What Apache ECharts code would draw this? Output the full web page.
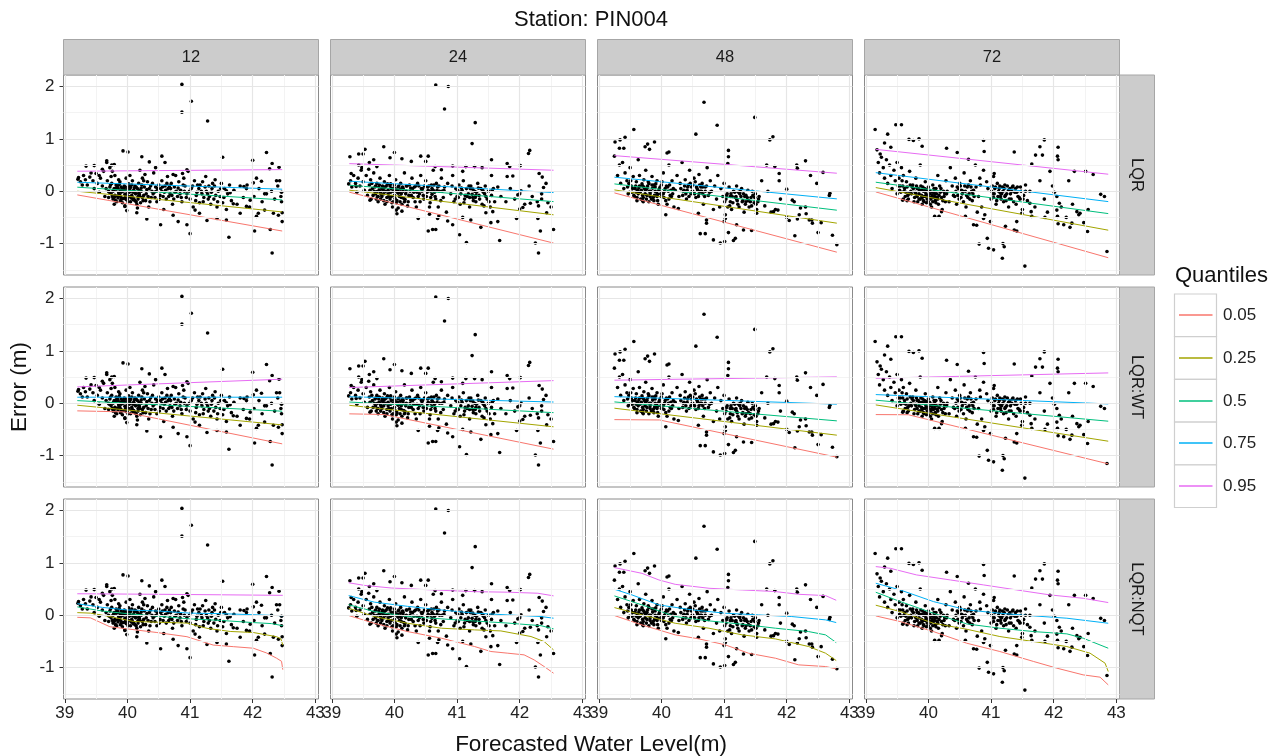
<!DOCTYPE html>
<html>
<head>
<meta charset="utf-8">
<script src="https://cdn.jsdelivr.net/npm/echarts@6/dist/echarts.min.js"></script>
<style>html,body{margin:0;padding:0;background:#fff}#c{width:1277px;height:756px}</style>
</head>
<body>
<div id="c"></div>
<script>
// ---------------- DATA ----------------
const leads = ['12', '24', '48', '72'];
const methods = ['LQR', 'LQR:WT', 'LQR:NQT'];
const quantiles = ['0.05', '0.25', '0.5', '0.75', '0.95'];
const xTicks = [39, 40, 41, 42, 43];
const xMinorTicks = [39.5, 40.5, 41.5, 42.5];
const yTicks = [-1, 0, 1, 2];
const yMinorTicks = [-1.5, -0.5, 0.5, 1.5];

// scatter points (forecasted water level, error) per lead time
const pts12 = [
[40.87,2.04],[40.87,1.51],[41.02,1.72],[41.28,1.34],[42.31,-1.18],[41.62,-0.88],[41.0,-0.81],[42.03,-0.76],[42.28,-0.73],[42.22,0.74],[42.0,0.59],[41.52,0.65],[40.55,0.67],[39.93,0.77],[40.01,0.75],[40.23,0.66],[40.35,0.56],[39.79,0.51],[39.67,0.58],[39.34,0.48],[39.47,0.49],[39.21,0.23],[39.28,0.12],[42.46,-0.02],[42.46,-0.2],[42.47,-0.41],[42.47,-0.58],[42.41,-0.46],[42.33,-0.42],[42.38,0.2],[42.43,0.2],[42.31,0.53],[42.27,0.43],[42.42,0.46],[42.14,0.19],[42.01,0.16],[42.06,0.25],[41.91,0.12],[41.96,-0.17],[41.86,0.09],[42.19,-0.05],[42.19,-0.36],[42.06,-0.48],[42.09,-0.42],[41.9,-0.29],[41.8,-0.42],[41.69,-0.24],[41.64,-0.03],[41.58,0.01],[41.43,-0.52],[41.58,-0.55],[41.27,-0.56],[41.15,-0.42],[41.08,-0.36],[40.95,-0.64],[40.81,-0.58],[40.73,-0.46],[40.53,-0.64],[40.31,-0.53],[40.15,-0.41],[39.99,-0.37],[39.96,-0.29],[40.73,0.32],[40.88,0.34],[40.95,0.41],
[39.22,0.26],[39.25,0.18],[39.3,0.3],[39.33,0.22],[39.36,0.12],[39.4,0.27],[39.42,0.35],[39.45,0.2],[39.47,0.05],[39.5,0.34],[39.52,0.15],[39.55,-0.02],[39.57,0.25],[39.6,0.1],[39.62,0.38],[39.64,-0.1],[39.66,0.05],[39.68,0.2],[39.7,-0.12],[39.7,0.0],[39.67,0.55],[39.72,0.45],[39.75,0.5],[39.76,0.38],
[39.72,0.08],[39.74,-0.05],[39.75,0.15],[39.77,-0.15],[39.78,0.02],[39.8,0.3],[39.8,-0.08],[39.82,0.12],[39.83,-0.2],[39.85,0.05],[39.86,-0.03],[39.88,0.18],[39.9,-0.12],[39.9,0.08],[39.92,-0.22],[39.93,0.0],[39.95,0.1],[39.96,-0.06],[39.98,0.25],[39.98,-0.16],[40.0,0.04],[40.0,-0.1],[40.02,0.14],[40.03,-0.02],[40.05,-0.2],[40.05,0.07],[40.07,-0.08],[40.08,0.2],[40.1,-0.14],[40.1,0.02],[40.12,0.1],[40.13,-0.05],[40.15,-0.25],[40.16,0.05],[40.18,0.15],[40.2,-0.1],[40.22,0.0],[40.24,0.25],[40.25,-0.18],[40.27,0.08],[40.3,-0.05],[40.32,0.18],[40.34,-0.3],[40.35,0.05],[40.38,-0.12],[40.4,0.15],[40.42,0.35],[40.43,-0.02],[40.45,0.08],[40.47,-0.2],[40.5,0.12],[40.52,-0.08],[40.55,0.2],[40.55,0.0],[40.58,-0.35],[40.6,0.1],[40.62,-0.15],[40.64,0.28],[40.65,0.05],[40.68,-0.05],[40.7,0.15],[40.72,-0.25],[40.75,0.08],[40.77,0.3],[40.8,-0.1],[40.82,0.18],[40.85,0.02],[40.87,-0.2],[40.9,0.25],[40.92,0.1],[40.95,-0.05],[40.97,0.38],[41.0,-0.15],[41.02,0.05],[41.05,-0.3],[41.07,0.2],[41.1,-0.08],[41.12,0.12],[41.15,-0.22],[41.18,0.0],[41.2,0.18],[41.22,-0.12],[41.25,0.28],[41.28,-0.05],[41.3,0.1],[41.33,-0.25],[41.35,0.05],[41.38,-0.15],[41.4,0.22],[41.43,-0.3],[41.45,0.0],[41.48,-0.1],[41.5,0.15],[41.52,-0.22],[41.55,0.05],[41.58,-0.35],[41.6,-0.05],[41.63,0.12],[41.66,-0.18],[41.7,0.02],[41.75,-0.25],[41.8,0.1],[41.85,-0.12],[41.9,0.05],[41.95,-0.3],[42.02,-0.1],[42.1,0.05],[42.15,-0.2],[42.22,-0.05],[42.3,0.0],[42.35,-0.15],[42.4,0.1],[42.45,-0.1],
[39.85,-0.13],[39.9,-0.02],[39.95,0.03],[40.0,-0.15],[40.04,0.09],[40.08,-0.12],[40.12,-0.18],[40.18,-0.04],[39.83,0.07],[39.88,-0.08],[40.2,0.4],[40.28,0.32],[40.45,0.45],[40.6,0.55],[39.6,0.42],[39.55,0.3],
[39.71,-0.02],[39.73,0.12],[39.76,-0.1],[39.79,0.05],[39.81,-0.18],[39.84,0.1],[39.87,-0.07],[39.89,0.02],[39.91,-0.15],[39.94,0.06],[39.97,-0.11],[39.99,0.0],[40.01,-0.2],[40.03,0.08],[40.06,-0.13],[40.09,-0.02],[40.11,0.06],[40.14,-0.2],[40.17,-0.1],[40.19,0.02],[40.21,-0.22],[40.23,0.12],[40.26,-0.08],[40.29,-0.18],[40.31,0.03],[40.36,-0.2],[40.39,0.0],[40.44,-0.12],[40.48,0.05],[40.51,-0.15],[40.56,0.08],[40.59,-0.02],[40.63,0.15],[40.66,-0.1],[40.69,0.05],[40.74,-0.15],[40.78,0.0],[40.84,-0.05],[40.89,0.12],[40.94,-0.12],[40.99,0.0],[41.04,0.1],[41.09,-0.18],[41.14,0.05],[41.19,-0.05],[41.24,0.08],[41.29,-0.15],[41.34,-0.02],[41.39,0.1],[41.44,-0.2],[41.49,0.05],[41.54,-0.12],[39.74,0.28],[39.79,-0.25],[39.86,0.22],[39.96,-0.28],[40.04,0.3],[40.16,-0.32],[40.26,0.2],
[39.77,0.0],[39.79,-0.12],[39.82,0.04],[39.84,-0.09],[39.87,0.13],[39.89,-0.18],[39.92,0.05],[39.94,-0.14],[39.97,0.08],[39.99,-0.06],[40.02,-0.1],[40.04,0.02],[40.07,0.12],[40.09,-0.16],[40.12,-0.02],[40.14,0.08],[40.17,-0.15],[40.19,-0.06],[40.22,0.06],[40.24,-0.12],[40.33,-0.1],[40.37,0.1],[40.41,-0.05],[40.46,0.0],[40.53,0.05],[40.57,-0.1],[40.61,0.02],[40.67,0.1],[40.71,-0.08],[40.76,-0.02],[40.81,0.06],[40.86,-0.12],[40.91,0.0],[41.11,-0.02],[41.16,0.12],[41.21,-0.2],[41.26,0.0],[41.31,-0.1],[41.36,0.15],[41.41,-0.08]
];
const pts24 = [
[40.66,2.03],[40.86,2.0],[40.8,1.57],[41.29,1.31],[41.24,0.91],[42.16,0.78],[42.14,0.72],[42.3,-1.18],[42.25,-0.99],[42.33,-0.76],[42.54,-0.73],[41.68,-0.94],[41.15,-0.98],[41.04,-0.83],[40.54,-0.76],[40.61,-0.73],[40.66,-0.73],[40.38,-0.52],[41.38,-0.69],[41.54,-0.6],[41.65,-0.58],[39.29,0.66],[39.31,0.34],[39.43,0.71],[39.5,0.71],[39.53,0.8],[39.83,0.85],[40.0,0.74],[40.12,0.62],[39.93,0.64],[40.42,0.67],[40.54,0.67],[40.27,0.57],[41.55,0.6],[41.8,0.53],[42.01,0.49],[42.31,0.34],[42.36,0.27],[42.38,0.07],[42.35,-0.15],[42.45,-0.22],[42.43,-0.41],[42.3,-0.28],[42.29,-0.52],[42.17,-0.23],[42.05,-0.31],[42.0,-0.34],[41.95,-0.52],[41.97,-0.07],[42.02,0.01],[41.8,0.28],[41.84,0.47],[41.89,0.29],[41.55,0.3],[41.4,0.45],[41.28,0.47],[41.09,0.38],[41.14,0.47],[40.93,0.48],[40.75,0.41],[40.65,0.47],[40.5,0.57],[39.6,0.55],[39.67,0.6],[39.72,0.47],[39.43,0.5],[39.48,0.45],[39.59,0.42],[39.27,0.14],[39.39,0.09],[39.61,-0.17],[39.74,-0.1],[40.03,-0.36],[40.04,-0.43],[40.06,-0.32],[40.12,-0.38],[40.56,-0.44],[40.69,-0.52],[40.71,-0.47],[40.85,-0.57],[40.93,-0.64],[41.09,-0.5],[41.22,-0.55],[41.57,-0.39],[41.46,-0.41],[41.43,-0.28],
[39.3,0.2],[39.32,0.08],[39.35,0.3],[39.38,0.15],[39.4,-0.02],[39.42,0.25],[39.45,0.1],[39.47,0.4],[39.5,0.18],[39.52,0.02],[39.55,0.3],[39.57,-0.08],[39.6,0.12],[39.62,0.22],[39.63,-0.15],[39.65,0.05],[39.67,0.35],[39.7,-0.05],[39.72,0.15],[39.74,-0.2],[39.75,0.08],[39.77,0.25],[39.8,-0.1],[39.82,0.02],[39.84,0.18],[39.85,-0.25],[39.87,0.1],[39.9,-0.05],[39.92,0.3],[39.93,-0.15],[39.95,0.05],[39.97,-0.3],[40.0,0.12],[40.0,-0.08],[40.02,0.22],[40.04,-0.18],[40.05,0.02],[40.08,-0.1],[40.1,0.15],[40.12,-0.25],[40.14,0.05],[40.16,0.35],[40.18,-0.05],[40.2,0.1],[40.22,-0.2],[40.25,0.0],[40.28,0.25],[40.3,-0.12],[40.32,0.08],[40.35,-0.3],[40.37,0.15],[40.4,-0.05],[40.42,0.3],[40.45,0.05],[40.47,-0.15],[40.5,0.2],[40.52,-0.02],[40.55,0.1],[40.57,-0.22],[40.6,0.05],[40.62,0.4],[40.65,-0.1],[40.67,0.15],[40.7,-0.3],[40.72,0.0],[40.75,0.25],[40.78,-0.12],[40.8,0.08],[40.83,-0.4],[40.85,0.15],[40.9,-0.05],[40.93,0.3],[40.95,-0.2],[40.98,0.05],[41.0,-0.1],[41.03,0.12],[41.05,-0.25],[41.08,0.02],[41.1,0.2],[41.12,-0.15],[41.15,0.05],[41.18,-0.05],[41.2,-0.3],[41.22,0.1],[41.25,-0.12],[41.28,0.0],[41.3,-0.2],[41.33,0.15],[41.35,-0.08],[41.38,0.05],[41.4,-0.25],[41.42,-0.02],[41.45,0.1],[41.48,-0.15],[41.5,0.0],[41.53,-0.3],[41.55,-0.08],[41.58,0.05],[41.6,-0.2],[41.65,0.08],[41.7,-0.1],[41.78,-0.2],[41.85,0.05],[41.92,-0.15],[42.0,-0.05],[42.08,-0.25],[42.15,0.1],[42.2,-0.1],[42.28,-0.2],[42.35,-0.05],[42.42,0.15],[42.5,-0.3],
[39.78,-0.03],[39.83,0.06],[39.88,-0.12],[39.94,0.14],[39.98,-0.2],[40.06,-0.04],[40.1,0.04],[40.15,-0.14],[40.6,-0.06],[40.63,0.12],[40.68,0.02],[40.58,0.0],[41.2,-0.12],[41.25,0.04],[41.3,-0.08],
[39.61,0.02],[39.64,0.15],[39.66,-0.08],[39.69,0.08],[39.71,-0.15],[39.73,0.0],[39.76,0.12],[39.79,-0.06],[39.81,0.1],[39.83,-0.18],[39.86,0.0],[39.89,0.14],[39.91,-0.1],[39.94,-0.02],[39.96,-0.22],[39.99,0.06],[40.01,-0.14],[40.03,0.0],[40.07,0.1],[40.09,-0.2],[40.11,-0.05],[40.13,0.08],[40.17,-0.16],[40.19,0.0],[40.21,-0.28],[40.24,0.12],[40.27,-0.08],[40.29,0.05],[40.33,-0.2],[40.36,-0.02],[40.39,0.1],[40.41,-0.2],[40.44,0.0],[40.48,0.1],[40.51,-0.1],[40.54,0.02],[40.56,-0.3],[40.59,0.12],[40.64,-0.02],[40.69,0.08],[40.74,-0.18],[40.79,0.02],[40.92,0.1],[40.97,-0.15],[41.01,0.02],[41.06,-0.05],[41.11,-0.22],[41.16,-0.1],[41.21,0.05],[41.26,-0.18],[41.31,-0.02],[41.36,-0.15],[41.41,0.02],[41.46,-0.1],[41.51,-0.2],[41.56,0.02],
[39.68,0.0],[39.7,0.1],[39.73,-0.1],[39.76,0.02],[39.78,-0.15],[39.8,0.05],[39.83,-0.05],[39.85,0.08],[39.88,-0.2],[39.9,0.02],[39.93,0.1],[39.95,-0.1],[39.98,0.0],[40.01,0.05],[40.03,-0.22],[40.06,0.08],[40.08,-0.02],[40.11,-0.12],[40.14,0.0],[40.16,-0.2],[40.19,0.1],[40.23,-0.08],[40.26,0.06],[40.31,-0.02],[40.34,0.1],[40.38,-0.1],[40.43,0.05],[40.46,-0.08],[40.53,0.08],[40.58,-0.12],[40.62,0.02],[40.66,-0.15],[40.71,0.1],[40.76,0.0],[41.02,-0.12],[41.07,0.06],[41.13,-0.08],[41.19,0.1],[41.24,-0.06],[41.29,-0.12],[41.34,0.06],[41.44,-0.05]
];
const pts48 = [
[40.68,1.70],[41.49,1.41],[40.89,1.26],[40.55,1.09],[39.56,1.18],[41.73,0.98],[41.78,1.04],[39.26,0.94],[39.34,0.98],[39.42,1.03],[39.33,0.82],[39.4,0.82],[39.25,0.67],[39.74,0.85],[39.78,0.9],[39.89,0.94],[39.81,0.8],[40.09,0.73],[40.12,0.75],[41.07,0.78],[41.07,0.66],[41.06,0.53],[41.68,0.5],[41.81,0.47],[41.88,0.34],[42.16,0.5],[42.17,0.44],[42.3,0.58],[42.38,0.3],[42.58,0.36],[42.69,-0.04],[42.68,-0.08],[42.5,-0.79],[42.73,-0.84],[42.8,-1.02],[42.13,-0.85],[42.04,-0.56],[42.17,-0.53],[42.36,-0.55],[42.41,-0.61],[42.22,-0.32],[42.31,-0.43],[42.09,-0.17],[41.86,-0.36],[41.79,-0.39],[42.0,0.04],[41.88,0.2],[40.62,-0.81],[40.7,-0.81],[40.83,-0.93],[40.94,-0.99],[41.01,-0.96],[41.15,-0.94],[41.18,-0.9],[41.07,-0.79],[41.31,-0.74],[41.44,-0.75],[41.2,-0.64],[41.0,-0.58],[40.72,-0.55],[40.72,-0.61],[40.59,-0.42],[40.07,-0.45],[39.61,-0.18],[39.71,-0.2],[40.27,-0.33],[41.02,-0.52],[41.52,-0.42],
[39.3,0.3],[39.33,0.5],[39.35,0.15],[39.38,0.55],[39.4,0.05],[39.42,0.35],[39.45,0.2],[39.47,-0.05],[39.5,0.45],[39.52,0.1],[39.55,0.28],[39.57,-0.1],[39.6,0.18],[39.62,0.02],[39.63,0.6],[39.65,0.3],[39.67,-0.15],[39.7,0.1],[39.72,0.22],[39.74,-0.05],[39.75,0.4],[39.77,0.05],[39.8,-0.2],[39.8,0.15],[39.83,0.0],[39.85,0.28],[39.87,-0.12],[39.9,0.08],[39.92,-0.02],[39.93,0.2],[39.95,-0.25],[39.97,0.05],[40.0,0.12],[40.0,-0.1],[40.03,0.35],[40.05,0.0],[40.07,-0.18],[40.1,0.08],[40.12,0.5],[40.14,-0.08],[40.17,0.2],[40.2,-0.3],[40.22,0.02],[40.25,0.3],[40.28,-0.1],[40.3,0.15],[40.33,0.55],[40.35,0.0],[40.38,0.22],[40.4,-0.15],[40.42,0.08],[40.45,0.4],[40.47,-0.05],[40.5,0.12],[40.52,0.25],[40.55,-0.12],[40.57,0.05],[40.6,0.32],[40.62,0.0],[40.65,0.15],[40.67,-0.25],[40.7,0.08],[40.73,0.45],[40.75,-0.08],[40.78,0.2],[40.8,0.0],[40.83,-0.35],[40.85,0.1],[40.88,-0.15],[40.9,0.3],[40.93,-0.3],[40.95,0.05],[40.98,-0.1],[41.0,0.15],[41.02,-0.45],[41.05,-0.05],[41.08,0.08],[41.1,-0.2],[41.12,-0.35],[41.15,0.0],[41.18,-0.12],[41.2,0.1],[41.22,-0.25],[41.25,-0.05],[41.28,0.05],[41.3,-0.18],[41.32,-0.4],[41.35,-0.08],[41.38,0.02],[41.4,-0.3],[41.43,-0.12],[41.45,0.0],[41.48,-0.22],[41.5,-0.05],[41.52,-0.35],[41.55,-0.15],[41.6,0.2],[41.65,-0.28],[41.7,0.0],[41.75,-0.4],[41.82,-0.35],[41.9,-0.15],[42.0,-0.5],[42.12,-0.2],[42.2,-0.45],[42.3,-0.3],[42.4,-0.55],[42.48,0.15],[42.55,-0.6],
[39.6,-0.02],[39.65,0.1],[39.7,-0.08],[39.75,0.02],[39.82,-0.1],[39.88,0.12],[39.94,-0.06],[40.02,-0.03],[40.5,0.0],[40.6,-0.05],[40.66,0.08],[41.1,-0.1],[41.2,-0.15],[41.26,0.0],[41.35,-0.2],
[39.46,0.08],[39.49,-0.02],[39.51,0.2],[39.54,0.05],[39.56,-0.08],[39.59,0.1],[39.61,-0.12],[39.64,0.06],[39.66,-0.02],[39.69,0.14],[39.71,-0.12],[39.73,0.05],[39.76,-0.15],[39.78,0.1],[39.81,0.0],[39.84,-0.15],[39.86,0.06],[39.89,-0.08],[39.91,0.14],[39.94,-0.18],[39.96,0.02],[39.99,-0.05],[40.01,0.18],[40.04,-0.12],[40.06,0.05],[40.09,-0.25],[40.11,0.0],[40.13,0.12],[40.16,-0.1],[40.19,0.05],[40.31,0.05],[40.34,-0.08],[40.37,0.1],[40.41,0.02],[40.44,-0.1],[40.46,0.15],[40.49,0.0],[40.53,-0.05],[40.56,0.08],[40.59,-0.1],[40.61,0.12],[40.64,0.0],[40.69,-0.1],[40.72,0.1],[40.77,-0.02],[41.01,-0.2],[41.04,-0.08],[41.09,-0.28],[41.13,-0.1],[41.17,-0.02],[41.21,-0.18],[41.24,-0.3],[41.27,-0.1],[41.31,-0.05],[41.34,-0.25],[41.37,-0.12],[41.42,-0.2],[41.46,-0.08],[41.51,-0.25],[41.56,-0.1],
[39.48,0.15],[39.53,-0.02],[39.58,0.05],[39.63,-0.05],[39.68,0.02],[39.7,-0.18],[39.72,0.08],[39.77,-0.08],[39.79,0.18],[39.82,-0.05],[39.85,0.12],[39.88,-0.18],[39.9,0.0],[39.93,-0.1],[39.98,0.08],[40.03,-0.05],[40.08,0.1],[40.12,-0.15],[40.15,0.02],[40.18,-0.05],[40.36,0.02],[40.39,-0.05],[40.43,0.12],[40.48,0.08],[40.51,-0.02],[40.54,0.18],[40.58,0.02],[40.63,0.08],[40.66,-0.05],[40.7,0.0],[41.03,-0.15],[41.06,-0.3],[41.11,-0.05],[41.14,-0.22],[41.19,-0.1],[41.23,-0.02],[41.29,-0.2],[41.33,-0.1],[41.39,-0.18],[41.44,-0.28],[41.49,-0.12],[41.54,-0.2]
];
const pts72 = [
[39.15,1.18],[39.48,1.27],[39.57,1.27],[39.35,1.09],[39.69,0.99],[39.76,0.97],[39.85,1.0],[39.4,0.84],[39.9,0.86],[39.3,0.92],[39.18,0.79],[39.23,0.71],[40.88,0.97],[40.89,0.76],[40.29,0.82],[40.46,0.74],[40.64,0.61],[41.37,0.75],[41.85,0.98],[41.78,0.85],[41.71,0.69],[41.82,0.69],[42.07,0.84],[42.06,0.67],[42.07,0.6],[41.65,0.52],[41.94,0.38],[42.24,0.2],[42.33,0.38],[42.51,0.38],[42.63,0.32],[42.75,-0.06],[42.81,-0.1],[42.85,-1.15],[42.54,-0.77],[42.42,-0.42],[42.37,-0.39],[42.29,-0.61],[42.26,-0.69],[42.16,-0.64],[42.07,-0.62],[42.06,-0.48],[42.05,-0.36],[42.09,-0.23],[42.01,-0.02],[41.86,-0.5],[41.65,-0.48],[41.54,-1.43],[41.18,-1.28],[41.21,-1.06],[41.19,-1.0],[41.04,-1.12],[40.96,-1.09],[40.81,-1.01],[40.94,-0.9],[41.41,-0.76],[41.37,-0.74],[41.23,-0.67],[40.99,-0.58],[40.88,-0.52],[40.72,-0.64],[40.77,-0.65],[40.59,-0.48],[40.1,-0.48],[40.17,-0.48],[40.21,-0.39],[39.59,-0.17],[39.66,-0.18],[41.04,0.28],[41.05,0.34],[40.93,0.18],[40.82,0.25],[41.62,-0.23],[41.49,-0.42],[41.64,-0.39],[41.41,-0.58],
[39.2,0.55],[39.22,0.35],[39.25,0.65],[39.28,0.45],[39.3,0.25],[39.33,0.6],[39.35,0.15],[39.38,0.5],[39.4,0.3],[39.42,0.05],[39.45,0.4],[39.47,0.2],[39.5,0.55],[39.5,-0.05],[39.53,0.25],[39.55,0.1],[39.57,0.45],[39.6,-0.15],[39.6,0.3],[39.62,0.05],[39.65,0.18],[39.67,-0.08],[39.7,0.38],[39.72,0.0],[39.75,0.12],[39.77,-0.2],[39.8,0.25],[39.8,-0.05],[39.82,0.05],[39.85,-0.15],[39.87,0.5],[39.88,0.1],[39.9,-0.25],[39.92,0.0],[39.95,0.18],[39.95,-0.1],[39.97,0.03],[40.0,-0.2],[40.0,0.08],[40.02,-0.05],[40.05,-0.3],[40.07,0.12],[40.08,-0.12],[40.1,0.0],[40.12,-0.22],[40.15,0.3],[40.17,-0.08],[40.2,0.05],[40.22,-0.35],[40.25,-0.1],[40.28,0.2],[40.3,0.0],[40.33,-0.2],[40.35,0.45],[40.38,0.1],[40.4,-0.08],[40.43,0.25],[40.45,-0.25],[40.48,0.05],[40.5,0.15],[40.52,-0.12],[40.55,0.0],[40.57,0.35],[40.6,-0.3],[40.62,0.08],[40.65,-0.05],[40.67,0.2],[40.7,-0.18],[40.72,0.02],[40.75,0.5],[40.78,-0.4],[40.8,-0.1],[40.83,0.12],[40.85,-0.3],[40.88,0.4],[40.9,-0.45],[40.95,0.05],[41.0,-0.15],[41.02,0.1],[41.05,-0.05],[41.08,-0.25],[41.1,0.15],[41.12,0.0],[41.15,-0.1],[41.18,0.08],[41.2,-0.2],[41.22,0.12],[41.25,-0.05],[41.28,-0.3],[41.3,0.05],[41.32,-0.15],[41.35,0.1],[41.38,-0.02],[41.4,-0.25],[41.42,0.08],[41.45,-0.12],[41.48,0.0],[41.5,-0.35],[41.52,-0.08],[41.55,0.12],[41.58,-0.18],[41.62,0.0],[41.7,-0.3],[41.78,0.2],[41.85,-0.15],[41.9,-0.4],[41.98,0.1],[42.05,-0.1],[42.12,-0.3],[42.2,-0.5],[42.3,-0.25],[42.4,-0.45],[42.48,-0.6],[42.55,-0.35],
[39.85,-0.05],[39.9,-0.12],[39.95,0.0],[40.0,-0.1],[40.04,-0.15],[40.1,-0.05],[40.14,-0.12],[39.92,-0.18],[40.06,-0.02],[41.15,-0.04],[41.22,-0.1],[41.28,0.02],
[39.52,0.1],[39.56,-0.02],[39.58,0.2],[39.61,0.0],[39.63,-0.1],[39.66,0.08],[39.68,-0.15],[39.71,0.12],[39.73,-0.05],[39.76,0.05],[39.78,-0.12],[39.81,0.1],[39.83,-0.2],[39.86,0.02],[39.89,-0.08],[39.91,0.08],[39.93,-0.2],[39.96,-0.05],[39.98,-0.15],[40.01,0.0],[40.03,-0.25],[40.06,-0.08],[40.09,0.05],[40.11,-0.18],[40.13,-0.05],[40.16,-0.25],[40.18,0.1],[40.21,-0.12],[40.24,0.0],[40.27,-0.2],[40.29,-0.05],[40.42,-0.1],[40.46,0.08],[40.49,-0.15],[40.53,0.02],[40.56,-0.2],[40.58,0.1],[40.61,-0.08],[40.64,0.12],[40.66,-0.15],[40.69,0.0],[40.73,-0.1],[40.76,0.08],[41.01,0.0],[41.04,-0.12],[41.07,0.08],[41.09,-0.18],[41.13,0.05],[41.16,-0.15],[41.19,0.0],[41.23,-0.08],[41.26,0.1],[41.29,-0.15],[41.33,0.0],[41.36,-0.2],[41.39,0.05],[41.43,-0.1],[41.47,0.08],[41.51,-0.15],[41.55,0.0],
[39.54,0.02],[39.59,0.1],[39.64,-0.02],[39.69,-0.05],[39.74,0.08],[39.79,-0.02],[39.82,-0.1],[39.84,0.05],[39.87,-0.15],[39.9,0.02],[39.92,-0.1],[39.94,0.05],[39.97,-0.22],[39.99,-0.08],[40.02,0.02],[40.04,-0.12],[40.07,-0.2],[40.1,-0.1],[40.12,0.05],[40.15,-0.15],[40.19,-0.02],[40.23,-0.18],[40.26,-0.05],[40.44,0.0],[40.47,-0.08],[40.51,0.1],[40.54,-0.05],[40.59,0.0],[40.63,-0.12],[40.68,0.08],[40.71,-0.05],[41.03,-0.05],[41.06,0.05],[41.11,-0.1],[41.14,0.1],[41.17,-0.05],[41.21,0.05],[41.24,-0.18],[41.31,-0.05],[41.34,0.08],[41.41,-0.02],[41.46,-0.15]
];

// quantile fits: [q0.05, q0.25, q0.5, q0.75, q0.95], each a list of [x, y]
const LQR_12 = [[[39.2,-0.07],[42.47,-0.76]],[[39.2,0.0],[42.47,-0.395]],[[39.2,0.077],[42.47,-0.165]],[[39.2,0.172],[42.47,0.039]],[[39.2,0.382],[42.47,0.413]]];
const LQR_24 = [[[39.28,-0.018],[42.54,-0.99]],[[39.28,0.02],[42.54,-0.45]],[[39.28,0.115],[42.54,-0.198]],[[39.28,0.191],[42.54,-0.026]],[[39.28,0.527],[42.54,0.401]]];
const LQR_48 = [[[39.25,-0.032],[42.8,-1.164]],[[39.25,0.025],[42.8,-0.61]],[[39.25,0.14],[42.8,-0.362]],[[39.25,0.268],[42.8,-0.146]],[[39.25,0.68],[42.8,0.344]]];
const LQR_72 = [[[39.16,-0.013],[42.87,-1.27]],[[39.16,0.07],[42.87,-0.744]],[[39.16,0.172],[42.87,-0.427]],[[39.16,0.355],[42.87,-0.198]],[[39.16,0.80],[42.87,0.325]]];

const WT_12 = [[[39.2,-0.146],[39.94,-0.165],[42.47,-0.776]],[[39.2,-0.038],[42.47,-0.414]],[[39.2,0.05],[42.47,-0.152]],[[39.2,0.115],[42.47,0.115]],[[39.2,0.312],[42.47,0.459]]];
const WT_24 = [[[39.28,-0.203],[39.83,-0.215],[42.54,-0.877]],[[39.28,-0.04],[42.54,-0.45]],[[39.28,0.023],[42.54,-0.18]],[[39.28,0.124],[42.54,0.023]],[[39.28,0.30],[42.54,0.432]]];
const WT_48 = [[[39.25,-0.313],[39.97,-0.32],[42.8,-1.03]],[[39.25,-0.095],[42.8,-0.61]],[[39.25,0.025],[42.8,-0.337]],[[39.25,0.126],[42.8,-0.018]],[[39.25,0.44],[42.8,0.503]]];
const WT_72 = [[[39.16,-0.217],[39.68,-0.22],[42.87,-1.158]],[[39.16,-0.032],[42.87,-0.725]],[[39.16,0.058],[42.87,-0.343]],[[39.16,0.165],[42.87,-0.013]],[[39.16,0.477],[42.87,0.579]]];

const NQT_12 = [
 [[39.2,-0.04],[39.41,-0.05],[39.72,-0.22],[40.47,-0.33],[40.95,-0.41],[41.37,-0.57],[41.69,-0.6],[42.01,-0.63],[42.22,-0.72],[42.38,-0.82],[42.46,-0.88],[42.48,-1.04]],
 [[39.2,0.05],[39.41,0.04],[39.72,-0.025],[40.1,-0.12],[40.95,-0.15],[41.27,-0.25],[41.64,-0.31],[42.01,-0.33],[42.38,-0.41],[42.45,-0.45],[42.48,-0.57]],
 [[39.2,0.16],[39.6,0.08],[40.0,0.03],[40.5,-0.02],[41.0,-0.07],[41.5,-0.1],[42.0,-0.14],[42.3,-0.16],[42.48,-0.2]],
 [[39.2,0.22],[39.6,0.15],[40.0,0.1],[40.5,0.08],[41.0,0.04],[41.5,0.03],[42.0,0.01],[42.48,-0.01]],
 [[39.2,0.41],[40.5,0.4],[41.5,0.39],[42.48,0.38]]
];
const NQT_24 = [
 [[39.27,-0.006],[39.68,-0.153],[40.21,-0.312],[40.75,-0.439],[41.28,-0.598],[41.54,-0.693],[41.81,-0.725],[42.07,-0.757],[42.23,-0.853],[42.39,-0.98],[42.54,-1.107]],
 [[39.27,0.134],[39.68,-0.025],[40.21,-0.153],[40.75,-0.248],[41.28,-0.28],[41.7,-0.3],[42.18,-0.407],[42.39,-0.503],[42.54,-0.662]],
 [[39.27,0.2],[39.68,0.07],[40.21,-0.025],[41.01,-0.09],[41.81,-0.15],[42.34,-0.2],[42.54,-0.26]],
 [[39.27,0.375],[39.68,0.25],[40.21,0.17],[40.75,0.1],[41.28,0.04],[41.81,0.006],[42.34,-0.025],[42.54,-0.057]],
 [[39.27,0.62],[39.52,0.57],[39.95,0.52],[40.48,0.49],[41.28,0.45],[41.81,0.44],[42.29,0.42],[42.54,0.37]]
];
const NQT_48 = [
 [[39.25,-0.006],[39.69,-0.185],[40.22,-0.375],[40.6,-0.452],[41.02,-0.566],[41.39,-0.725],[41.82,-0.821],[42.19,-0.948],[42.62,-0.98],[42.79,-1.024]],
 [[39.25,0.146],[39.69,0.006],[40.22,-0.153],[40.76,-0.248],[41.29,-0.375],[41.82,-0.452],[42.35,-0.598],[42.62,-0.725],[42.79,-0.865]],
 [[39.25,0.369],[39.69,0.197],[40.22,-0.025],[40.76,-0.108],[41.29,-0.172],[41.82,-0.248],[42.35,-0.312],[42.62,-0.375],[42.79,-0.522]],
 [[39.25,0.496],[39.53,0.388],[39.96,0.197],[40.49,0.102],[41.02,0.038],[41.55,0.006],[42.08,-0.025],[42.62,-0.089],[42.79,-0.14]],
 [[39.25,0.91],[39.43,0.865],[39.69,0.8],[39.96,0.674],[40.22,0.59],[40.76,0.515],[41.29,0.483],[41.82,0.452],[42.19,0.4],[42.62,0.375],[42.79,0.286]]
];
const NQT_72 = [
 [[39.16,-0.013],[39.55,-0.121],[40.08,-0.312],[40.61,-0.534],[41.14,-0.693],[41.68,-0.884],[42.05,-1.011],[42.47,-1.139],[42.74,-1.183],[42.87,-1.33]],
 [[39.16,0.191],[39.55,0.07],[40.08,-0.153],[40.61,-0.267],[41.14,-0.407],[41.68,-0.503],[42.21,-0.598],[42.58,-0.725],[42.82,-0.916],[42.87,-1.075]],
 [[39.16,0.439],[39.55,0.261],[40.08,0.038],[40.61,-0.166],[41.14,-0.248],[41.68,-0.312],[42.21,-0.356],[42.47,-0.439],[42.87,-0.63]],
 [[39.16,0.611],[39.55,0.483],[40.08,0.261],[40.61,0.102],[41.14,0.038],[41.68,-0.013],[42.21,-0.057],[42.87,-0.153]],
 [[39.16,0.929],[39.39,0.897],[39.81,0.77],[40.35,0.674],[40.88,0.579],[41.41,0.483],[41.94,0.388],[42.47,0.324],[42.87,0.242]]
];

// ---------------- LAYOUT / STYLE ----------------
const colPts = [pts12, pts24, pts48, pts72];
const fits = [[LQR_12, LQR_24, LQR_48, LQR_72], [WT_12, WT_24, WT_48, WT_72], [NQT_12, NQT_24, NQT_48, NQT_72]];
const qColors = ['#F8766D', '#A3A500', '#00BF7D', '#00B0F6', '#E76BF3'];
const FONT = '"Liberation Sans", Arial, sans-serif';
const colLeft = [63.5, 330.5, 597.5, 864.5];
const rowTop = [75, 287, 499];
const W = 255, H = 200;
const XMIN = 38.98, XMAX = 43.05, YMIN = -1.6, YMAX = 2.22;

const grids = [], xAxes = [], yAxes = [], series = [];
let gi = 0;
for (let r = 0; r < 3; r++) {
  for (let c = 0; c < 4; c++) {
    grids.push({left: colLeft[c], top: rowTop[r], width: W, height: H, show: true,
      borderColor: '#8a8a8a', borderWidth: 1, backgroundColor: '#fff', containLabel: false});
    xAxes.push({type: 'value', gridIndex: gi, min: XMIN, max: XMAX,
      axisLine: {show: false, onZero: false},
      splitLine: {show: false},
      axisTick: {show: r === 2, customValues: xTicks, length: 4, lineStyle: {color: '#333', width: 1}},
      axisLabel: {show: r === 2, customValues: xTicks, margin: 6, fontSize: 17, fontFamily: FONT, color: '#222',
        showMinLabel: true, showMaxLabel: true, hideOverlap: false}});
    yAxes.push({type: 'value', gridIndex: gi, min: YMIN, max: YMAX,
      axisLine: {show: false, onZero: false},
      splitLine: {show: false},
      axisTick: {show: c === 0, customValues: yTicks, length: 4, lineStyle: {color: '#333', width: 1}},
      axisLabel: {show: c === 0, customValues: yTicks, margin: 9, fontSize: 17, fontFamily: FONT, color: '#222'}});
    const ml = [];
    xMinorTicks.forEach(v => ml.push({xAxis: v, lineStyle: {color: '#F3F3F3', width: 1}}));
    yMinorTicks.forEach(v => ml.push({yAxis: v, lineStyle: {color: '#F3F3F3', width: 1}}));
    xTicks.forEach(v => ml.push({xAxis: v, lineStyle: {color: '#E6E6E6', width: 1.2}}));
    yTicks.forEach(v => ml.push({yAxis: v, lineStyle: {color: '#E6E6E6', width: 1.2}}));
    series.push({type: 'scatter', xAxisIndex: gi, yAxisIndex: gi, data: [], z: 1, silent: true,
      markLine: {silent: true, symbol: ['none', 'none'], label: {show: false}, animation: false,
        lineStyle: {type: 'solid'}, data: ml}});
    series.push({type: 'scatter', xAxisIndex: gi, yAxisIndex: gi, data: colPts[c], symbol: 'circle', symbolSize: 3.6,
      itemStyle: {color: '#000', opacity: 1}, z: 3, silent: true});
    fits[r][c].forEach((ln, qi) => {
      series.push({type: 'line', xAxisIndex: gi, yAxisIndex: gi, data: ln, showSymbol: false, symbol: 'none',
        lineStyle: {color: qColors[qi], width: 1}, z: 4, silent: true, name: quantiles[qi]});
    });
    gi++;
  }
}

const g = [];
g.push({type: 'text', x: 591, y: 20, style: {text: 'Station: PIN004', font: '22px ' + FONT, fill: '#111', align: 'center', verticalAlign: 'middle'}});
for (let c = 0; c < 4; c++) {
  g.push({type: 'rect', shape: {x: colLeft[c], y: 39.5, width: W, height: 35.5}, style: {fill: '#CCCCCC', stroke: '#A6A6A6', lineWidth: 1}});
  g.push({type: 'text', x: colLeft[c] + W / 2, y: 57.5, style: {text: leads[c], font: '16.5px ' + FONT, fill: '#1a1a1a', align: 'center', verticalAlign: 'middle'}});
}
for (let r = 0; r < 3; r++) {
  g.push({type: 'rect', shape: {x: 1119.5, y: rowTop[r], width: 35, height: H}, style: {fill: '#CCCCCC', stroke: '#A6A6A6', lineWidth: 1}});
  g.push({type: 'text', x: 1137, y: rowTop[r] + H / 2, rotation: -Math.PI / 2, style: {text: methods[r], font: '16.5px ' + FONT, fill: '#1a1a1a', align: 'center', verticalAlign: 'middle'}});
}
g.push({type: 'text', x: 591, y: 745, style: {text: 'Forecasted Water Level(m)', font: '22.5px ' + FONT, fill: '#111', align: 'center', verticalAlign: 'middle'}});
g.push({type: 'text', x: 20, y: 387, rotation: Math.PI / 2, style: {text: 'Error (m)', font: '22.5px ' + FONT, fill: '#111', align: 'center', verticalAlign: 'middle'}});
g.push({type: 'text', x: 1175, y: 276, style: {text: 'Quantiles', font: '22px ' + FONT, fill: '#111', align: 'left', verticalAlign: 'middle'}});
const keyH = 42.7;
quantiles.forEach((q, i) => {
  const y0 = 294 + i * keyH;
  const yc = Math.round(y0 + keyH / 2);
  g.push({type: 'rect', shape: {x: 1174.5, y: y0, width: 42, height: keyH}, style: {fill: '#fff', stroke: '#CFCFCF', lineWidth: 1.2}});
  g.push({type: 'line', shape: {x1: 1179, y1: yc, x2: 1212.5, y2: yc}, style: {stroke: qColors[i], lineWidth: 1.6}});
  g.push({type: 'text', x: 1223, y: yc, style: {text: q, font: '17px ' + FONT, fill: '#222', align: 'left', verticalAlign: 'middle'}});
});

const chart = echarts.init(document.getElementById('c'), null, {renderer: 'canvas'});
chart.setOption({
  animation: false,
  backgroundColor: '#fff',
  grid: grids, xAxis: xAxes, yAxis: yAxes, series: series,
  graphic: {elements: g}
});
</script>
</body>
</html>
